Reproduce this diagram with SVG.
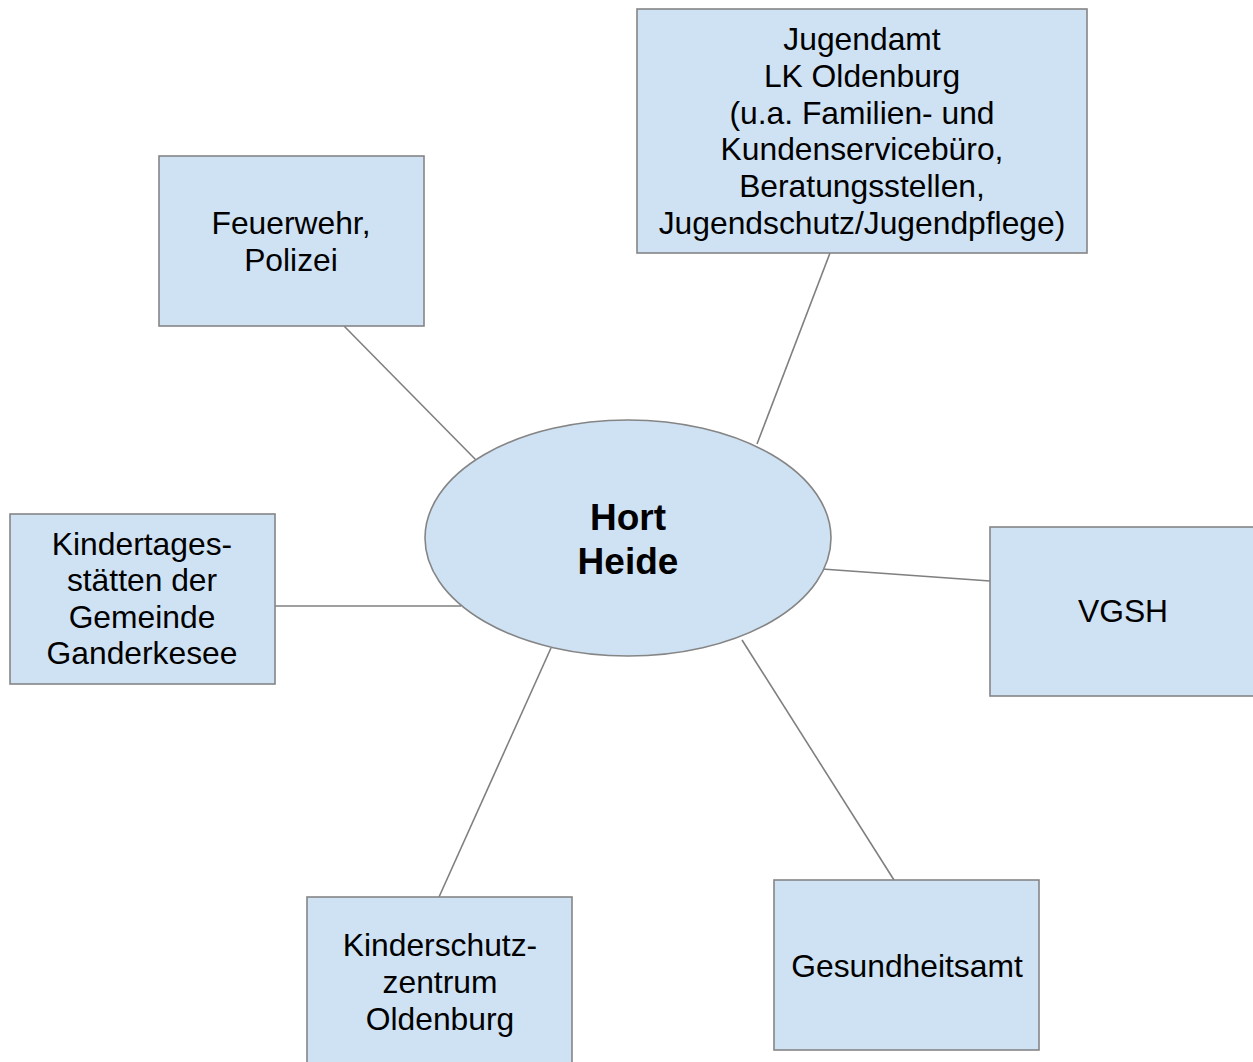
<svg xmlns="http://www.w3.org/2000/svg" width="1253" height="1062" viewBox="0 0 1253 1062">
<style>
.box{fill:#cfe2f3;stroke:#858585;stroke-width:1.6}
.t{font-family:"Liberation Sans",Arial,sans-serif;font-size:31.8px;fill:#000;text-anchor:middle}
.b{font-family:"Liberation Sans",Arial,sans-serif;font-size:37px;font-weight:bold;fill:#000;text-anchor:middle}
.c{stroke:#7f7f7f;stroke-width:1.6;fill:none}
</style>
<rect width="1253" height="1062" fill="#fff"/>
<g id="connectors">
<line class="c" x1="344" y1="326" x2="476" y2="460"/>
<line class="c" x1="830" y1="253" x2="757" y2="444"/>
<line class="c" x1="275" y1="606" x2="461" y2="606"/>
<line class="c" x1="822" y1="569" x2="990" y2="581"/>
<line class="c" x1="439" y1="897" x2="551" y2="648"/>
<line class="c" x1="742" y1="640" x2="894" y2="880"/>
</g>
<g id="hort">
<ellipse class="box" cx="628" cy="538" rx="203" ry="118"/>
<text class="b" x="628" y="530">Hort</text>
<text class="b" x="628" y="574">Heide</text>
</g>
<g id="feuerwehr">
<rect class="box" x="159" y="156" width="265" height="170"/>
<text class="t" x="291" y="234">Feuerwehr,</text>
<text class="t" x="291" y="271">Polizei</text>
</g>
<g id="jugendamt">
<rect class="box" x="637" y="9" width="450" height="244"/>
<text class="t" x="862" y="50">Jugendamt</text>
<text class="t" x="862" y="87">LK Oldenburg</text>
<text class="t" x="862" y="124">(u.a. Familien- und</text>
<text class="t" x="862" y="160">Kundenservicebüro,</text>
<text class="t" x="862" y="197">Beratungsstellen,</text>
<text class="t" x="862" y="234">Jugendschutz/Jugendpflege)</text>
</g>
<g id="kitas">
<rect class="box" x="10" y="514" width="265" height="170"/>
<text class="t" x="142" y="555">Kindertages-</text>
<text class="t" x="142" y="591">stätten der</text>
<text class="t" x="142" y="628">Gemeinde</text>
<text class="t" x="142" y="664">Ganderkesee</text>
</g>
<g id="vgsh">
<rect class="box" x="990" y="527" width="270" height="169"/>
<text class="t" x="1123" y="622">VGSH</text>
</g>
<g id="kinderschutz">
<rect class="box" x="307" y="897" width="265" height="175"/>
<text class="t" x="440" y="956">Kinderschutz-</text>
<text class="t" x="440" y="993">zentrum</text>
<text class="t" x="440" y="1030">Oldenburg</text>
</g>
<g id="gesundheitsamt">
<rect class="box" x="774" y="880" width="265" height="170"/>
<text class="t" x="907" y="977">Gesundheitsamt</text>
</g>
</svg>
